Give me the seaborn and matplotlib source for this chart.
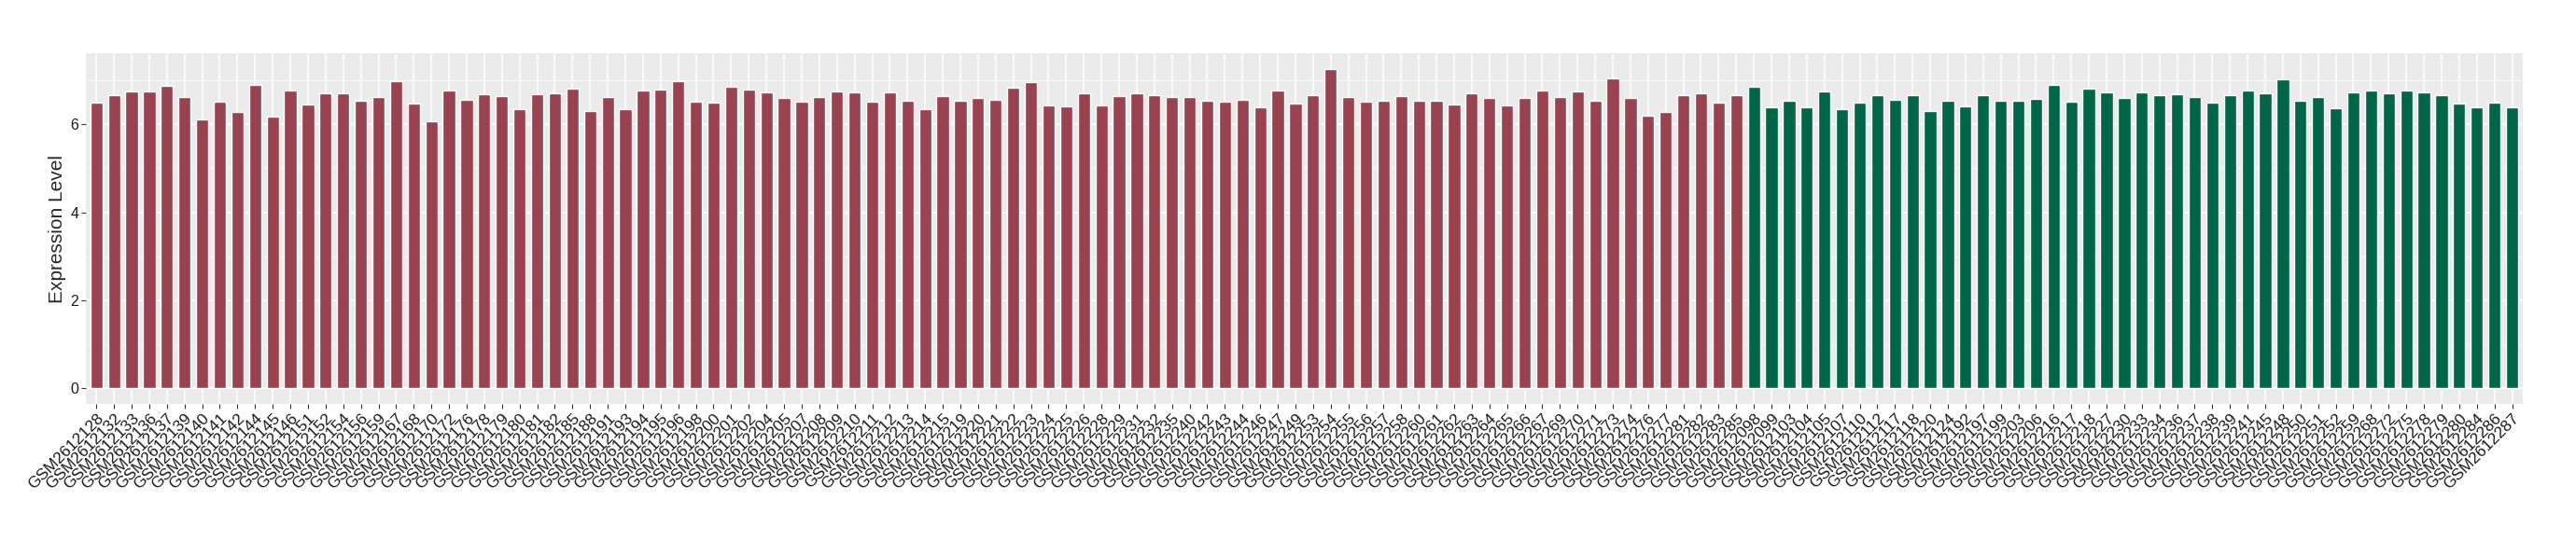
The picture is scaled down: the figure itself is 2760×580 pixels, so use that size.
import pandas as pd
import matplotlib.pyplot as plt
import seaborn as sns

# =====================================
# Data
# =====================================

tumor_samples = [
    "GSM2612128", "GSM2612132", "GSM2612133", "GSM2612136", "GSM2612137",
    "GSM2612139", "GSM2612140", "GSM2612141", "GSM2612142", "GSM2612144",
    "GSM2612145", "GSM2612146", "GSM2612151", "GSM2612152", "GSM2612154",
    "GSM2612156", "GSM2612159", "GSM2612167", "GSM2612168", "GSM2612170",
    "GSM2612172", "GSM2612176", "GSM2612178", "GSM2612179", "GSM2612180",
    "GSM2612181", "GSM2612182", "GSM2612185", "GSM2612188", "GSM2612191",
    "GSM2612193", "GSM2612194", "GSM2612195", "GSM2612196", "GSM2612198",
    "GSM2612200", "GSM2612201", "GSM2612202", "GSM2612204", "GSM2612205",
    "GSM2612207", "GSM2612208", "GSM2612209", "GSM2612210", "GSM2612211",
    "GSM2612212", "GSM2612213", "GSM2612214", "GSM2612215", "GSM2612219",
    "GSM2612220", "GSM2612221", "GSM2612222", "GSM2612223", "GSM2612224",
    "GSM2612225", "GSM2612226", "GSM2612228", "GSM2612229", "GSM2612231",
    "GSM2612232", "GSM2612235", "GSM2612240", "GSM2612242", "GSM2612243",
    "GSM2612244", "GSM2612246", "GSM2612247", "GSM2612249", "GSM2612253",
    "GSM2612254", "GSM2612255", "GSM2612256", "GSM2612257", "GSM2612258",
    "GSM2612260", "GSM2612261", "GSM2612262", "GSM2612263", "GSM2612264",
    "GSM2612265", "GSM2612266", "GSM2612267", "GSM2612269", "GSM2612270",
    "GSM2612271", "GSM2612273", "GSM2612274", "GSM2612276", "GSM2612277",
    "GSM2612281", "GSM2612282", "GSM2612283", "GSM2612285",
]

tumor_values = [
    6.50, 6.67, 6.75, 6.75, 6.88, 6.63, 6.12, 6.52, 6.29, 6.90,
    6.18, 6.77, 6.46, 6.71, 6.71, 6.54, 6.63, 6.99, 6.48, 6.08,
    6.77, 6.56, 6.69, 6.65, 6.35, 6.69, 6.71, 6.82, 6.31, 6.63,
    6.35, 6.77, 6.80, 6.99, 6.52, 6.50, 6.86, 6.80, 6.73, 6.61,
    6.52, 6.63, 6.75, 6.73, 6.52, 6.73, 6.54, 6.35, 6.65, 6.54,
    6.61, 6.56, 6.84, 6.96, 6.44, 6.42, 6.71, 6.44, 6.65, 6.71,
    6.67, 6.63, 6.63, 6.54, 6.52, 6.56, 6.39, 6.77, 6.48, 6.67,
    7.26, 6.63, 6.52, 6.54, 6.65, 6.54, 6.54, 6.46, 6.71, 6.61,
    6.44, 6.61, 6.77, 6.63, 6.75, 6.54, 7.05, 6.61, 6.20, 6.29,
    6.67, 6.71, 6.50, 6.67,
]

normal_samples = [
    "GSM2612098", "GSM2612099", "GSM2612103", "GSM2612104", "GSM2612105",
    "GSM2612107", "GSM2612110", "GSM2612112", "GSM2612117", "GSM2612118",
    "GSM2612120", "GSM2612124", "GSM2612192", "GSM2612197", "GSM2612199",
    "GSM2612203", "GSM2612206", "GSM2612216", "GSM2612217", "GSM2612218",
    "GSM2612227", "GSM2612230", "GSM2612233", "GSM2612234", "GSM2612236",
    "GSM2612237", "GSM2612238", "GSM2612239", "GSM2612241", "GSM2612245",
    "GSM2612248", "GSM2612250", "GSM2612251", "GSM2612252", "GSM2612259",
    "GSM2612268", "GSM2612272", "GSM2612275", "GSM2612278", "GSM2612279",
    "GSM2612280", "GSM2612284", "GSM2612286", "GSM2612287",
]

normal_values = [
    6.86, 6.39, 6.54, 6.39, 6.75, 6.35, 6.50, 6.67, 6.56, 6.67,
    6.31, 6.54, 6.42, 6.67, 6.54, 6.54, 6.58, 6.90, 6.52, 6.82,
    6.73, 6.61, 6.73, 6.67, 6.69, 6.63, 6.50, 6.67, 6.77, 6.71,
    7.03, 6.54, 6.63, 6.37, 6.73, 6.77, 6.71, 6.77, 6.73, 6.67,
    6.48, 6.39, 6.50, 6.39,
]

group_colors = {"Tumor": "#9A4350", "Normal": "#006647"}

df = pd.DataFrame({
    "Sample": tumor_samples + normal_samples,
    "Expression": tumor_values + normal_values,
    "Group": ["Tumor"] * len(tumor_samples) + ["Normal"] * len(normal_samples),
})

# =====================================
# Plot
# =====================================

sns.set_theme(style="darkgrid", rc={
    "axes.facecolor": "#EBEBEB",
    "grid.color": "white",
})
plt.rcParams["font.family"] = ["Liberation Sans", "DejaVu Sans"]

fig, ax = plt.subplots(figsize=(27.6, 5.8), dpi=100)
fig.subplots_adjust(left=0.0333, right=0.9793, bottom=0.2534, top=0.9017)

sns.barplot(
    data=df,
    x="Sample",
    y="Expression",
    hue="Group",
    palette=group_colors,
    dodge=False,
    width=0.7,
    saturation=1,
    legend=False,
    ax=ax
)

ax.set_xlim(-0.6, len(df) - 0.4)
ax.set_ylim(-0.363, 7.62)
ax.set_yticks([0, 2, 4, 6])
ax.set_yticks([1, 3, 5, 7], minor=True)

ax.grid(which="major", color="white", linewidth=1.1)
ax.grid(which="minor", axis="y", color="white", linewidth=0.55)
ax.set_axisbelow(True)

for s in ax.spines.values():
    s.set_visible(False)

ax.tick_params(axis="both", which="major", length=3.5, width=0.8,
               color="#333333", labelcolor="#1a1a1a", bottom=True, left=True)
ax.tick_params(axis="y", which="minor", length=0, left=False)
ax.tick_params(axis="x", labelsize=12.5, pad=2)
ax.tick_params(axis="y", labelsize=11.5, pad=2)

plt.setp(ax.get_xticklabels(), rotation=45, ha="right",
         rotation_mode="anchor")

ax.set_xlabel("")
ax.set_ylabel("Expression Level", fontsize=15, labelpad=3)

fig.savefig("out.png", dpi=100)
